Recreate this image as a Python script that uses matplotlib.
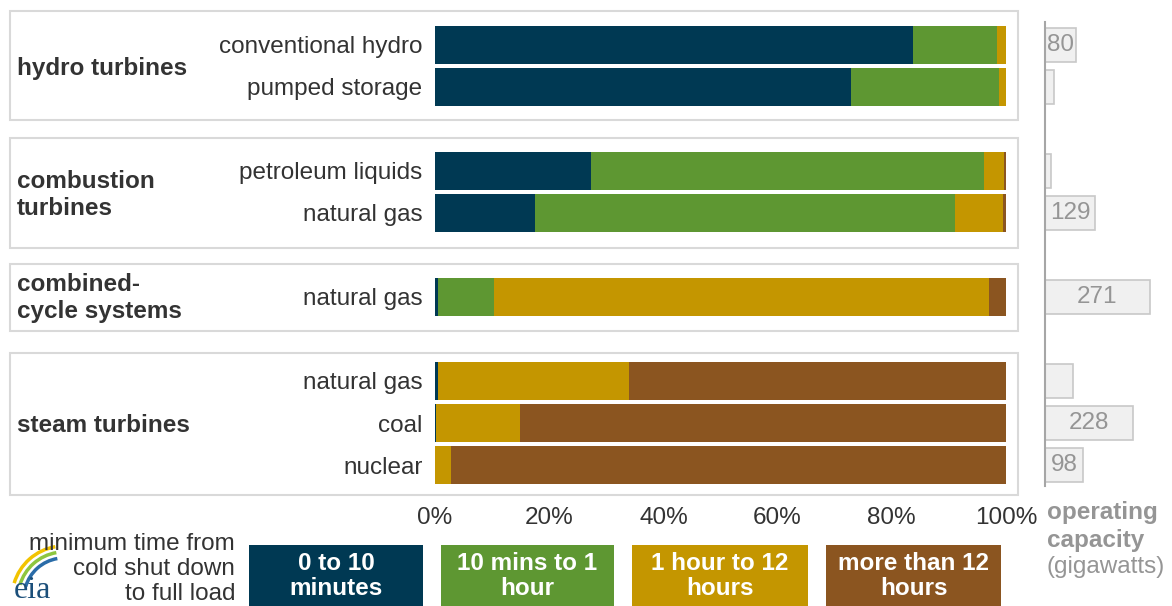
import numpy as np
import matplotlib
matplotlib.use("Agg")
import matplotlib.pyplot as plt
from matplotlib.patches import Rectangle, Arc

plt.rcParams['font.family'] = ['Liberation Sans', 'DejaVu Sans']

## row data, top to bottom
rows = ['conventional hydro', 'pumped storage', 'petroleum liquids', 'natural gas',
        'natural gas', 'natural gas', 'coal', 'nuclear']
row_pos = [0, 1, 3, 4, 6, 8, 9, 10]

## share of capacity (%) by minimum start-up time
min_0_10 = [83.7, 72.9, 27.3, 17.5, 0.5, 0.5, 0.2, 0.0]
min_10_60 = [14.7, 25.9, 68.8, 73.6, 9.8, 0.0, 0.0, 0.0]
hr_1_12 = [1.6, 1.2, 3.6, 8.4, 86.7, 33.5, 14.7, 2.8]
hr_12_plus = [0.0, 0.0, 0.3, 0.5, 3.0, 66.0, 85.1, 97.2]

## operating capacity (GW) and which ones get a label
capacity = [80, 23, 16, 129, 271, 72, 228, 98]
cap_labels = ['80', '', '', '129', '271', '', '228', '98']

groups = ['hydro turbines', 'combustion\nturbines', 'combined-\ncycle systems', 'steam turbines']
legend_labels = ['0 to 10\nminutes', '10 mins to 1\nhour', '1 hour to 12\nhours', 'more than 12\nhours']
colors = ['#003953', '#5e9732', '#c49600', '#8b5520']
xticks = [0, 20, 40, 60, 80, 100]

W, H = 1172, 606
fig = plt.figure(figsize=(W / 100, H / 100), dpi=100)

## helper: pixel box -> figure fraction
def fbox(x0, y0, x1, y1):
    return [x0 / W, 1 - y1 / H, (x1 - x0) / W, (y1 - y0) / H]

txt = '#333333'
gray = '#959595'
fs = 17.5

## group boxes (behind the axes)
box_px = [(10, 11, 1018, 120), (10, 138, 1018, 248), (10, 264, 1018, 331), (10, 353, 1018, 495)]
for (x0, y0, x1, y1) in box_px:
    fig.patches.append(Rectangle((x0 / W, 1 - y1 / H), (x1 - x0) / W, (y1 - y0) / H,
                                 transform=fig.transFigure, facecolor='white',
                                 edgecolor='#d9d9d9', linewidth=1.5, zorder=-1))

group_y = [68, 195, 298, 425]
for g, gy in zip(groups, group_y):
    fig.text(17 / W, 1 - gy / H, g, fontsize=fs, fontweight='bold', color=txt,
             ha='left', va='center', linespacing=1.25)

## main stacked bars
ax = fig.add_axes(fbox(435, 3, 1006, 507))
ax.patch.set_alpha(0)
left = np.zeros(len(rows))
for vals, c in zip([min_0_10, min_10_60, hr_1_12, hr_12_plus], colors):
    ax.barh(row_pos, vals, left=left, height=0.9, color=c, edgecolor='none')
    left += np.array(vals)
ax.set_xlim(0, 100)
ax.set_ylim(11, -1)
ax.set_yticks(row_pos)
ax.set_yticklabels(rows, fontsize=fs, color=txt)
ax.set_xticks(xticks)
ax.set_xticklabels([f'{t}%' for t in xticks], fontsize=fs, color=txt)
ax.tick_params(length=0, axis='y', pad=9)
ax.tick_params(length=0, axis='x', pad=0)
for s in ax.spines.values():
    s.set_visible(False)

## capacity bars
ax2 = fig.add_axes(fbox(1045, 3, 1161, 507))
ax2.patch.set_alpha(0)
ax2.barh(row_pos, capacity, height=0.83, color='#f0f0f0', edgecolor='#c8c8c8', linewidth=1.2)
for p, v, lab in zip(row_pos, capacity, cap_labels):
    if lab:
        ax2.text(v / 2, p, lab, ha='center', va='center', fontsize=fs, color=gray)
ax2.plot([0, 0], [-0.55, 10.5], color='#a6a6a6', linewidth=1.5, clip_on=False)
ax2.set_xlim(0, 300)
ax2.set_ylim(11, -1)
ax2.axis('off')

fig.text(1047 / W, 1 - 513 / H, 'operating', fontsize=fs, fontweight='bold', color=gray, va='center')
fig.text(1047 / W, 1 - 540 / H, 'capacity', fontsize=fs, fontweight='bold', color=gray, va='center')
fig.text(1047 / W, 1 - 567 / H, '(gigawatts)', fontsize=fs, color=gray, va='center')

## legend
leg_px = [(249, 423), (441, 614), (632, 808), (826, 1001)]
for (x0, x1), lab, c in zip(leg_px, legend_labels, colors):
    fig.patches.append(Rectangle((x0 / W, 0), (x1 - x0) / W, (H - 545) / H,
                                 transform=fig.transFigure, facecolor=c, edgecolor='none'))
    fig.text((x0 + x1) / 2 / W, 1 - 576 / H, lab, fontsize=fs, fontweight='bold', color='white',
             ha='center', va='center', linespacing=1.15)

for i, line in enumerate(['minimum time from', 'cold shut down', 'to full load']):
    fig.text(235 / W, 1 - (544 + 25 * i) / H, line, fontsize=fs, color=txt, ha='right', va='center')

## eia logo, rough
fig.text(14 / W, 1 - 591 / H, 'eia', fontsize=23, family='Liberation Serif', color='#1b4f7a',
         ha='left', va='center')
for r, c in zip([40, 46, 52], ['#2a6ca8', '#8dc63f', '#f2c300']):
    fig.patches.append(Arc((64 / W, 1 - 598 / H), r * 2 / W, r * 2 / H, theta1=95, theta2=150,
                           transform=fig.transFigure, color=c, linewidth=2.5))

fig.savefig('out.png', dpi=100)
